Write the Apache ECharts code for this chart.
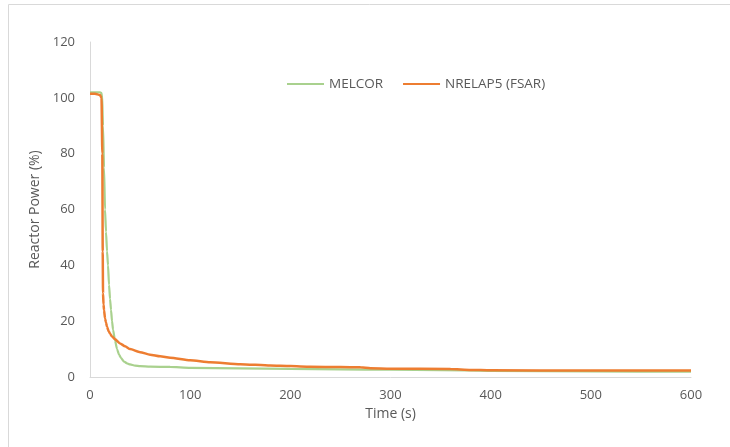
<!DOCTYPE html>
<html><head><meta charset="utf-8">
<script src="https://cdn.jsdelivr.net/npm/echarts@6/dist/echarts.min.js"></script>
<style>html,body{margin:0;padding:0;background:#fff}#c{width:730px;height:447px}</style>
</head><body><div id="c"></div>
<script>
var melcorTime  = [0, 5, 10, 12, 13, 14, 15, 16, 17, 18, 19, 20, 21, 22, 23, 25, 27, 29, 31, 34, 37, 40, 45, 50, 60, 80, 100, 150, 200, 250, 300, 350, 400, 500, 600];
var melcorPower = [102, 102, 102, 101.5, 90, 75, 60, 52, 45, 40, 33, 28, 24, 20, 17, 13, 10, 8, 6.8, 5.5, 4.9, 4.5, 4.1, 3.9, 3.7, 3.6, 3.3, 3.1, 2.9, 2.75, 2.6, 2.45, 2.2, 2.0, 1.9];
var nrelapTime  = [0, 5, 10, 11.5, 12.3, 12.7, 13, 13.5, 14, 15, 16, 17, 18.5, 20, 22, 25, 30, 35, 40, 50, 60, 70, 80, 100, 120, 150, 180, 200, 220, 250, 270, 280, 300, 360, 380, 400, 500, 600];
var nrelapPower = [101.5, 101.5, 101, 100, 80, 45, 30, 26, 24, 21, 19.5, 18, 16.5, 15.5, 14.5, 13.5, 12, 11, 10, 8.9, 8, 7.4, 6.9, 6, 5.3, 4.6, 4.1, 3.9, 3.7, 3.55, 3.45, 3.15, 3.0, 2.9, 2.55, 2.4, 2.3, 2.3];
var xTicks = [0, 100, 200, 300, 400, 500, 600];
var yTicks = [0, 20, 40, 60, 80, 100, 120];

function zip(a, b) { return a.map(function (v, i) { return [v, b[i]]; }); }
var chart = echarts.init(document.getElementById('c'));
var font = '"Open Sans", "Liberation Sans", sans-serif';
chart.setOption({
  animation: false,
  textStyle: { fontFamily: font },
  graphic: [
    { type: 'line', shape: { x1: 8.5, y1: 4.5, x2: 730, y2: 4.5 }, style: { stroke: '#d9d9d9', lineWidth: 1 } },
    { type: 'line', shape: { x1: 8.5, y1: 4.5, x2: 8.5, y2: 447 }, style: { stroke: '#d9d9d9', lineWidth: 1 } }
  ],
  grid: { left: 90, right: 39, top: 42, bottom: 70 },
  legend: {
    top: 72, left: 282, itemGap: 20, itemWidth: 37, itemHeight: 2,
    icon: 'rect',
    textStyle: { color: '#595959', fontSize: 13.5, fontFamily: font },
    data: ['MELCOR', 'NRELAP5 (FSAR)']
  },
  xAxis: {
    type: 'value', min: xTicks[0], max: xTicks[xTicks.length - 1], interval: 100,
    name: 'Time (s)', nameLocation: 'middle', nameGap: 28,
    nameTextStyle: { color: '#595959', fontSize: 14, fontFamily: font },
    axisLine: { show: true, lineStyle: { color: '#d9d9d9', width: 1 } },
    axisTick: { show: false },
    splitLine: { show: false },
    axisLabel: { color: '#595959', fontSize: 13, margin: 12, fontFamily: font }
  },
  yAxis: {
    type: 'value', min: yTicks[0], max: yTicks[yTicks.length - 1], interval: 20,
    name: 'Reactor Power (%)', nameLocation: 'middle', nameGap: 48,
    nameTextStyle: { color: '#595959', fontSize: 14, fontFamily: font },
    axisLine: { show: true, lineStyle: { color: '#d9d9d9', width: 1 } },
    axisTick: { show: false },
    splitLine: { show: false },
    axisLabel: { color: '#595959', fontSize: 13, margin: 15, fontFamily: font }
  },
  series: [
    { name: 'MELCOR', type: 'line', showSymbol: false, smooth: 0.2, smoothMonotone: 'x',
      data: zip(melcorTime, melcorPower), lineStyle: { color: '#a9d18e', width: 2.2 }, itemStyle: { color: '#a9d18e' } },
    { name: 'NRELAP5 (FSAR)', type: 'line', showSymbol: false, smooth: 0.2, smoothMonotone: 'x',
      data: zip(nrelapTime, nrelapPower), lineStyle: { color: '#ed7d31', width: 2.5 }, itemStyle: { color: '#ed7d31' } }
  ]
});
</script></body></html>
